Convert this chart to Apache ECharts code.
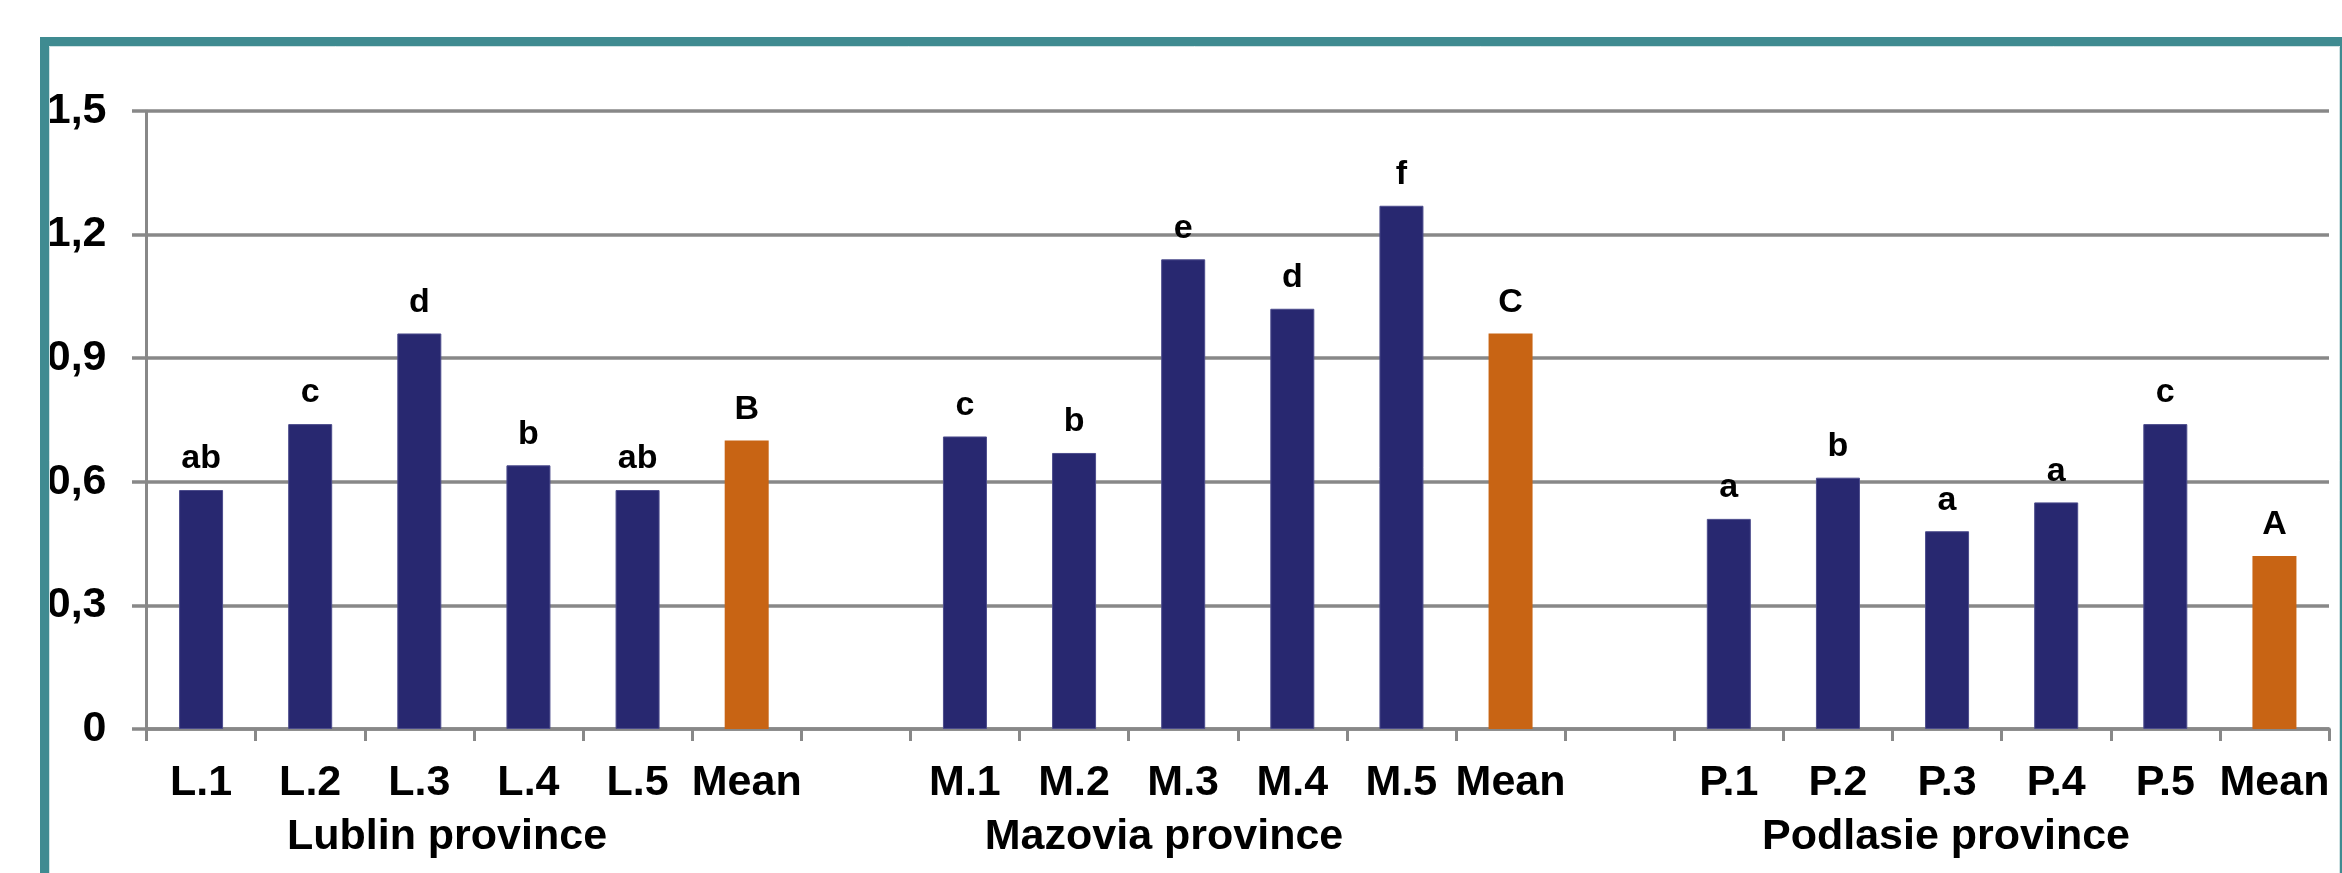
<!DOCTYPE html>
<html>
<head>
<meta charset="utf-8">
<title>Provinces</title>
<script src="https://cdn.jsdelivr.net/npm/echarts@6/dist/echarts.min.js"></script>
<style>
  html, body { margin: 0; padding: 0; background: #ffffff; }
  #chart { width: 2342px; height: 873px; }
</style>
</head>
<body>
<div id="chart"></div>
<script>
// Category labels along the x axis (empty slots separate the provinces)
const categories = ['L.1', 'L.2', 'L.3', 'L.4', 'L.5', 'Mean', '',
                    'M.1', 'M.2', 'M.3', 'M.4', 'M.5', 'Mean', '',
                    'P.1', 'P.2', 'P.3', 'P.4', 'P.5', 'Mean'];

// Individual sites
const siteValues = [0.58, 0.74, 0.96, 0.64, 0.58, null, null,
                    0.71, 0.67, 1.14, 1.02, 1.27, null, null,
                    0.51, 0.61, 0.48, 0.55, 0.74, null];
const siteLetters = ['ab', 'c', 'd', 'b', 'ab', '', '',
                     'c', 'b', 'e', 'd', 'f', '', '',
                     'a', 'b', 'a', 'a', 'c', ''];

// Province means
const meanValues = [null, null, null, null, null, 0.70, null,
                    null, null, null, null, null, 0.96, null,
                    null, null, null, null, null, 0.42];
const meanLetters = ['', '', '', '', '', 'B', '',
                     '', '', '', '', '', 'C', '',
                     '', '', '', '', '', 'A'];

// Value axis ticks
const yTicks = [0, 0.3, 0.6, 0.9, 1.2, 1.5];

// Province names written under each group
const provinceNames = ['Lublin province', 'Mazovia province', 'Podlasie province'];

const FONT = "'Liberation Sans', Arial, Helvetica, sans-serif";
const GRID = '#888888';

const chart = echarts.init(document.getElementById('chart'), null, { renderer: 'canvas' });

const letterLabel = (letters) => ({
  show: true,
  position: 'top',
  distance: 14,
  fontFamily: FONT,
  fontWeight: 'bold',
  fontSize: 34,
  color: '#000000',
  formatter: (p) => letters[p.dataIndex]
});

// x centres of the province names, in pixels
const provinceX = [447, 1164, 1946];

chart.setOption({
  backgroundColor: '#ffffff',
  animation: false,
  grid: { left: 146.5, right: 13, top: 111, bottom: 144, containLabel: false },
  xAxis: {
    type: 'category',
    data: categories,
    boundaryGap: true,
    axisLine: { show: true, lineStyle: { color: GRID, width: 3.5 } },
    axisTick: { show: true, interval: 0, alignWithLabel: false, length: 12,
                lineStyle: { color: GRID, width: 3 } },
    axisLabel: { interval: 0, margin: 33, fontFamily: FONT, fontWeight: 'bold',
                 fontSize: 43, color: '#000000' },
    splitLine: { show: false }
  },
  yAxis: {
    type: 'value',
    min: yTicks[0],
    max: yTicks[yTicks.length - 1],
    interval: 0.3,
    axisLine: { show: true, lineStyle: { color: GRID, width: 3 } },
    axisTick: { show: true, length: 14.5, lineStyle: { color: GRID, width: 3.5 } },
    axisLabel: {
      margin: 40, fontFamily: FONT, fontWeight: 'bold', fontSize: 43, color: '#000000',
      formatter: (v) => String(+v.toFixed(1)).replace('.', ',')
    },
    splitLine: { show: true, lineStyle: { color: GRID, width: 3.5 } }
  },
  series: [
    {
      name: 'Sites',
      type: 'bar',
      data: siteValues,
      barWidth: 44,
      barGap: '-100%',
      itemStyle: { color: '#282870', borderColor: '#4c4c8c', borderWidth: 1 },
      label: letterLabel(siteLetters)
    },
    {
      name: 'Mean',
      type: 'bar',
      data: meanValues,
      barWidth: 44,
      barGap: '-100%',
      itemStyle: { color: '#c86414' },
      label: letterLabel(meanLetters)
    }
  ],
  graphic: [
    {
      type: 'rect',
      silent: true,
      z: 100,
      shape: { x: 44.5, y: 41.5, width: 2300, height: 1000 },
      style: { fill: 'none', stroke: '#3f8b91', lineWidth: 9 }
    },
    {
      type: 'rect',
      silent: true,
      z: 99,
      shape: { x: 49.5, y: 46.5, width: 2290, height: 1000 },
      style: { fill: 'none', stroke: '#cfe2e3', lineWidth: 1 }
    }
  ].concat(provinceNames.map((name, i) => ({
    type: 'text',
    silent: true,
    x: provinceX[i],
    y: 837,
    style: {
      text: name,
      font: "bold 43px " + FONT,
      fill: '#000000',
      align: 'center',
      verticalAlign: 'middle'
    }
  })))
});
</script>
</body>
</html>
